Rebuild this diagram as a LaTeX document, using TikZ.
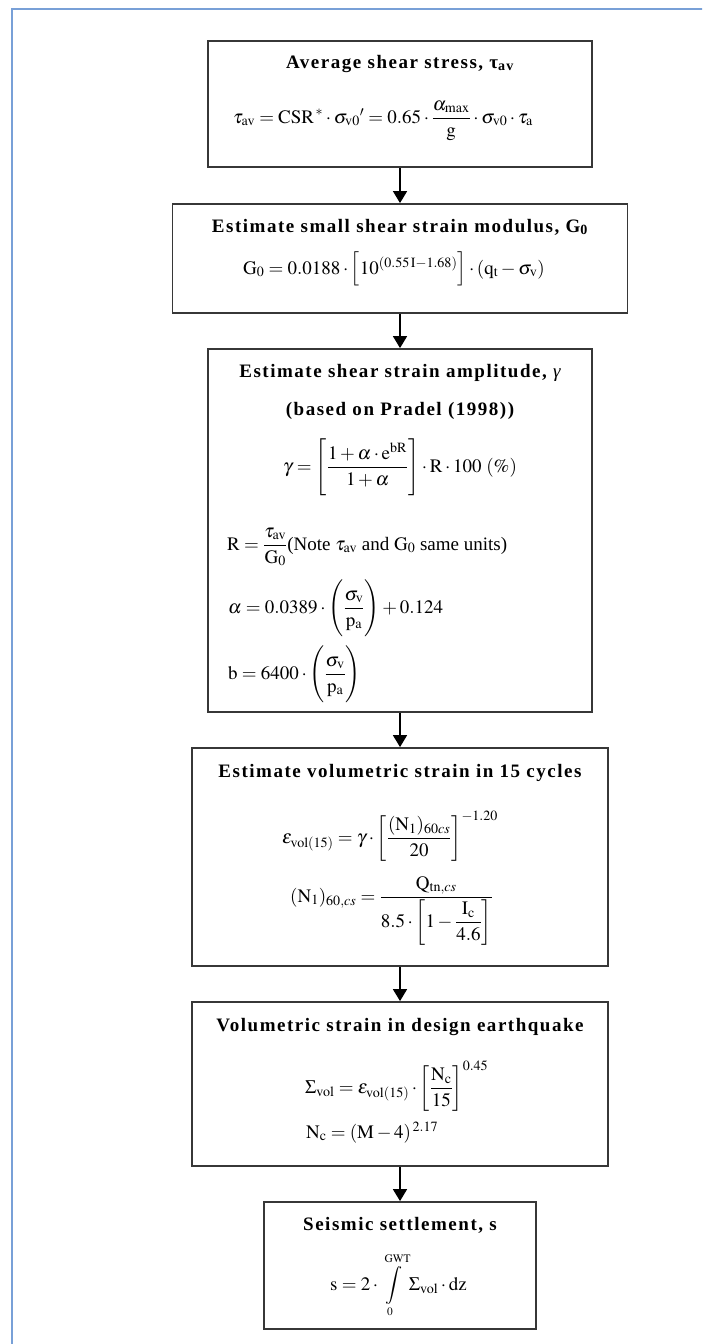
\documentclass[tikz,border=0pt]{standalone}
\usepackage{mathptmx}
\usepackage[no-math]{fontspec}
\setmainfont{Liberation Serif}
\newfontfamily\ttlfont[LetterSpace=8]{Liberation Serif}
\usepackage{amsmath}
\usetikzlibrary{arrows.meta}
\definecolor{frameblue}{RGB}{120,160,215}
\definecolor{boxline}{RGB}{55,55,55}
\newcommand{\vsz}[1]{\vcenter{\hbox{\rule{0pt}{#1}}}}
\tikzset{
  box/.style={draw=boxline, line width=1.8pt, fill=white, inner sep=0pt},
  ttl/.style={font=\fontsize{19}{22}\selectfont\ttlfont\bfseries, inner sep=0pt, anchor=base},
  frm/.style={font=\fontsize{19}{22}\selectfont, inner sep=0pt, anchor=base west},
  arr/.style={draw=black, line width=1.5pt, -{Triangle[width=14pt,length=12pt]}}
}
\begin{document}
\begin{tikzpicture}[x=1pt,y=-1pt]
\useasboundingbox (0,0) rectangle (702,1344);
\begin{scope}
\clip (0,0) rectangle (702,1344);
\draw[frameblue, line width=2pt] (12,9) rectangle (760,1400);
\end{scope}
% boxes
\node[box, minimum width=384pt, minimum height=126pt] (b1) at (400,104) {};
\node[box, minimum width=455pt, minimum height=109pt] (b2) at (400,258.5) {};
\node[box, minimum width=384pt, minimum height=363pt] (b3) at (400,530.5) {};
\node[box, minimum width=416pt, minimum height=218pt] (b4) at (400,857) {};
\node[box, minimum width=416pt, minimum height=164pt] (b5) at (400,1084) {};
\node[box, minimum width=272pt, minimum height=127pt] (b6) at (400,1265.5) {};
% arrows
\draw[arr] (b1.south) -- (b2.north);
\draw[arr] (b2.south) -- (b3.north);
\draw[arr] (b3.south) -- (b4.north);
\draw[arr] (b4.south) -- (b5.north);
\draw[arr] (b5.south) -- (b6.north);
% box 1
\node[ttl] (t1) at (400,68) {Average shear stress, τ\textsubscript{av}};
\node[frm] (f1) at (233,123) {$\tau_{\mathrm{av}} = \mathrm{CSR}^{\,*}\cdot\sigma_{\mathrm{v0}}{}' = 0.65\cdot\dfrac{\alpha_{\mathrm{max}}}{\mathrm{g}}\cdot\sigma_{\mathrm{v0}}\cdot\tau_{\mathrm{a}}$};
% box 2
\node[ttl] (t2) at (400,232) {Estimate small shear strain modulus, G\textsubscript{0}};
\node[frm] (f2) at (243,274) {$\mathrm{G}_0 = 0.0188\cdot\left[\vsz{28pt}10^{(0.55\,\mathrm{I}-1.68)}\right]\cdot(\mathrm{q}_{\mathrm{t}}-\sigma_{\mathrm{v}})$};
% box 3
\node[ttl] (t3a) at (400,377) {Estimate shear strain amplitude, {\mdseries\itshape γ}};
\node[ttl] (t3b) at (400,415) {(based on Pradel (1998))};
\node[frm] (f3a) at (283,472) {$\gamma = \left[\vsz{60pt}\dfrac{1+\alpha\cdot \mathrm{e}^{\mathrm{bR}}}{1+\alpha}\right]\cdot \mathrm{R}\cdot 100\ (\%)$};
\node[frm] (f3b) at (227,550) {$\mathrm{R} = \dfrac{\tau_{\mathrm{av}}}{\mathrm{G}_0}$(Note $\tau_{\mathrm{av}}$ and $\mathrm{G}_0$ same units)};
\node[frm] (f3c) at (228,613) {$\alpha = 0.0389\cdot\left(\vsz{52pt}\dfrac{\sigma_{\mathrm{v}}}{\mathrm{p}_{\mathrm{a}}}\right)+0.124$};
\node[frm] (f3d) at (228,679) {$\mathrm{b} = 6400\cdot\left(\vsz{52pt}\dfrac{\sigma_{\mathrm{v}}}{\mathrm{p}_{\mathrm{a}}}\right)$};
% box 4
\node[ttl] (t4) at (400,777) {Estimate volumetric strain in 15 cycles};
\node[frm] (f4a) at (282,843) {$\varepsilon_{\mathrm{vol(15)}} = \gamma\cdot\left[\vsz{46pt}\dfrac{(\mathrm{N}_1)_{60cs}}{20}\right]^{-1.20}$};
\node[frm] (f4b) at (290,902) {$(\mathrm{N}_1)_{60,cs} = \dfrac{\mathrm{Q}_{\mathrm{tn},cs}}{8.5\cdot\left[\vsz{42pt}1-\dfrac{\mathrm{I}_{\mathrm{c}}}{4.6}\right]}$};
% box 5
\node[ttl] (t5) at (400,1031) {Volumetric strain in design earthquake};
\node[frm] (f5a) at (305,1093) {$\Sigma_{\mathrm{vol}} = \varepsilon_{\mathrm{vol(15)}}\cdot\left[\vsz{36pt}\dfrac{\mathrm{N}_{\mathrm{c}}}{15}\right]^{0.45}$};
\node[frm] (f5b) at (306,1138) {$\mathrm{N}_{\mathrm{c}} = (\mathrm{M}-4)^{\,2.17}$};
% box 6
\node[ttl] (t6) at (400,1230) {Seismic settlement, s};
\node[frm] (f6) at (330,1290) {$\mathrm{s} = 2\cdot \displaystyle\int\limits_{\scriptscriptstyle 0}^{\scriptscriptstyle\mathrm{GWT}}\Sigma_{\mathrm{vol}}\cdot \mathrm{dz}$};
\end{tikzpicture}
\end{document}
